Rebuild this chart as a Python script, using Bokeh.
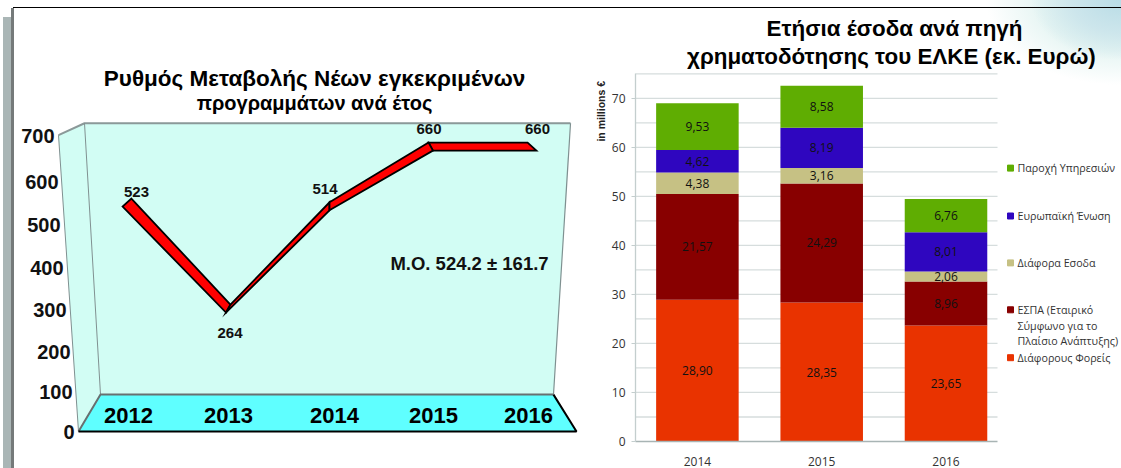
from bokeh.plotting import figure
from bokeh.models import Range1d, FixedTicker, ColumnDataSource
from bokeh.layouts import row
from bokeh.core.properties import value
from bokeh.embed import file_html
from bokeh.resources import INLINE

# ---------- data: left chart ----------
years = [2012, 2013, 2014, 2015, 2016]
new_programmes = [523, 264, 514, 660, 660]
y_ticks_left = [0, 100, 200, 300, 400, 500, 600, 700]
left_title = ["Ρυθμός Μεταβολής Νέων εγκεκριμένων", "προγραμμάτων ανά έτος"]
mean_note = "Μ.Ο. 524.2 ± 161.7"

# ---------- data: right chart ----------
right_years = ["2014", "2015", "2016"]
foreis = [28.90, 28.35, 23.65]
espa = [21.57, 24.29, 8.96]
diafora = [4.38, 3.16, 2.06]
europe = [4.62, 8.19, 8.01]
services = [9.53, 8.58, 6.76]
y_ticks_right = [0, 10, 20, 30, 40, 50, 60, 70]
y_grid_right = [5, 10, 15, 20, 25, 30, 35, 40, 45, 50, 55, 60, 65, 70, 75]
right_y_title = "in millions €"
right_title = ["Ετήσια έσοδα ανά πηγή", "χρηματοδότησης  του ΕΛΚΕ (εκ. Ευρώ)"]
legend_names = ["Παροχή Υπηρεσιών", "Ευρωπαϊκή Ένωση", "Διάφορα Εσοδα",
                "ΕΣΠΑ (Εταιρικό", "Διάφορους Φορείς"]
legend_extra = ["Σύμφωνο για το", "Πλαίσιο Ανάπτυξης)"]

# ---------- layout ----------
PAGE = 0
SPLIT = 606
H = 468
W = 1121
BOTTOM = 26
FRAME_BOTTOM = PAGE + H - BOTTOM
BOLD = "Liberation Sans"
SMALL = "Open Sans"

# left figure: page pixels <-> data
LX0, LDX = 126.5, 101.25      # page x of first year, px per year
LY0, LDY = 417.0, 0.41        # page y of value 0, px per unit
def lx(px): return 2012 + (px - LX0) / LDX
def ly(py): return (LY0 - py) / LDY

# right figure: page pixels <-> data
RX0, RDX = 696.9, 124.3
RY0, RDY = 442.0, 4.914
def rx(px): return (px - RX0) / RDX
def ry(py): return (RY0 - py) / RDY

left_bg = ("linear-gradient(#000,#000) 13px 7px/100% 1px no-repeat,"
           "linear-gradient(#757a7a,#757a7a) 11px 8px/3px 100% no-repeat,"
           "linear-gradient(#aab6b6,#aab6b6) 3px 17px/8px 100% no-repeat")

# ========== LEFT ==========
L = figure(width=SPLIT - PAGE, height=H, output_backend="svg", toolbar_location=None,
           x_range=Range1d(lx(PAGE), lx(SPLIT)), y_range=Range1d(ly(FRAME_BOTTOM), ly(PAGE)),
           min_border_left=0, min_border_right=0, min_border_top=0, min_border_bottom=BOTTOM,
           outline_line_color=None, background_fill_color=None,
           border_fill_color=None, styles={"background": left_bg})
L.axis.visible = False
L.grid.visible = False

def poly(fig, pts, conv, **kw):
    fig.patch([conv[0](a) for a, _ in pts], [conv[1](b) for _, b in pts], **kw)

def seg(fig, pts, conv, color, width):
    fig.line([conv[0](a) for a, _ in pts], [conv[1](b) for _, b in pts],
             line_color=color, line_width=width)

LC = (lx, ly)
WALL = "#d2fdf4"
poly(L, [(58, 135), (84, 123), (100, 395), (78, 432)], LC, fill_color=WALL, line_color=None)
poly(L, [(84, 123), (570, 123), (553, 395), (100, 395)], LC, fill_color=WALL, line_color=None)
poly(L, [(100, 395), (553, 395), (576, 432), (78, 432)], LC, fill_color="#5fffff", line_color=None)
seg(L, [(58, 135), (84, 123), (570, 123)], LC, "#8b9999", 2)
seg(L, [(58, 135), (78, 432)], LC, "#7f9090", 1)
seg(L, [(84, 123), (100, 395)], LC, "#7f9090", 1)
seg(L, [(570, 123), (553, 395)], LC, "#7f9090", 1.2)
seg(L, [(78, 432), (100, 395), (553, 395)], LC, "#687070", 2)
seg(L, [(78, 432), (576, 432), (553, 395)], LC, "#000000", 2)

# ribbon: each segment extruded along the depth of the 3-D chart
DEPTH_X = 2.2 / LDX     # per year away from the centre
DEPTH_Y = 4.0 / LDY
mid = years[2]
def back(i):  return (years[i] - DEPTH_X * (years[i] - mid), new_programmes[i] + DEPTH_Y)
def front(i): return (years[i] + DEPTH_X * (years[i] - mid), new_programmes[i] - DEPTH_Y)
xs, ys = [], []
for i in range(len(years) - 1):
    q = [back(i), back(i + 1), front(i + 1), front(i)]
    xs.append([a for a, _ in q])
    ys.append([b for _, b in q])
order = [0, 1, 3, 2]
L.patches([xs[i] for i in order], [ys[i] for i in order], fill_color="#ff0000",
          line_color="#000000", line_width=1.8, line_join="miter")

# value labels
val_off = [(9.5, -10.6), (1.75, 24), (-4.5, -17), (-1.75, -17.4), (5.5, -17.4)]   # page px offset from the point
for y, v, (ox, oy) in zip(years, new_programmes, val_off):
    L.text([y + ox / LDX], [v - oy / LDY], text=[str(v)], text_font=value(BOLD),
           text_font_style="bold", text_font_size="15px", text_color="#111111",
           text_align="center", text_baseline="middle")

# axis labels sit on the slanted front edge
tick_pos = [(74, 432), (72, 392), (70, 352), (66, 310), (63, 268), (60, 225), (58, 182), (54, 136)]
for t, (a, b) in zip(y_ticks_left, tick_pos):
    L.text([lx(a)], [ly(b)], text=[str(t)], text_font=value(BOLD), text_font_style="bold",
           text_font_size="20px", text_color="#111111", text_align="right", text_baseline="middle")
year_pos = [128, 228, 334, 433, 528]
for y, a in zip(years, year_pos):
    L.text([lx(a)], [ly(416)], text=[str(y)], text_font=value(BOLD), text_font_style="bold",
           text_font_size="22px", text_color="#000000", text_align="center", text_baseline="middle")

L.text([lx(469)], [ly(264)], text=[mean_note], text_font=value(BOLD), text_font_style="bold",
       text_font_size="18.5px", text_color="#111111", text_align="center", text_baseline="middle")
for s, b, fs in zip(left_title, [78, 103], ["22.5px", "20px"]):
    L.text([lx(314)], [ly(b)], text=[s], text_font=value(BOLD), text_font_style="bold",
           text_font_size=fs, text_color="#000000", text_align="center", text_baseline="middle")

# title of the right chart's value axis (stands left of its tick labels)
L.text([lx(600)], [ly(111)], text=[right_y_title], angle=90, angle_units="deg",
       text_font=value(BOLD), text_font_style="bold", text_font_size="10.5px",
       text_color="#222222", text_align="center", text_baseline="middle")

# ========== RIGHT ==========
grad = ("linear-gradient(#000,#000) 0 7px/100% 1px no-repeat,"
        "radial-gradient(ellipse 90px 60px at 100% 0, #b9dce6 0%, #cde6ec 55%, rgba(255,255,255,0) 100%),"
        "radial-gradient(ellipse 135px 85px at 100% 0, #d8f0ec 0%, #e6f5f3 60%, rgba(255,255,255,0) 100%)")
R = figure(width=PAGE + W - SPLIT, height=H, output_backend="svg", toolbar_location=None,
           x_range=Range1d(rx(635), rx(1121)), y_range=Range1d(0, ry(PAGE)),
           min_border_left=635 - SPLIT, min_border_right=0, min_border_top=0,
           min_border_bottom=BOTTOM, outline_line_color=None,
           background_fill_color=None, border_fill_color=None, styles={"background": grad})
R.grid.visible = False

GRID = "#d6dddd"
R.segment(x0=[rx(635)] * len(y_grid_right), y0=y_grid_right,
          x1=[rx(997)] * len(y_grid_right), y1=y_grid_right, line_color=GRID, line_width=1.3)

keys = ["foreis", "espa", "diafora", "europe", "services"]
colors = ["#e93300", "#880000", "#c6c184", "#2f06bf", "#5fad02"]
idx = list(range(len(right_years)))
src = ColumnDataSource(dict(x=idx, foreis=foreis, espa=espa, diafora=diafora, europe=europe, services=services))
R.vbar_stack(keys, x="x", width=0.664, source=src, color=colors, line_color=None)

bottoms = [0.0] * 3
for k, series in zip(keys, [foreis, espa, diafora, europe, services]):
    for i, v in enumerate(series):
        R.text([i], [bottoms[i] + v / 2], text=[f"{v:.2f}".replace(".", ",")],
               text_font=value(SMALL), text_font_size="12px", text_color="#111111",
               text_align="center", text_baseline="middle")
        bottoms[i] += v

R.yaxis.ticker = FixedTicker(ticks=y_ticks_right)
R.yaxis.bounds = (0, 75)
R.yaxis.minor_tick_line_color = None
R.yaxis.axis_line_color = "#c4cece"
R.yaxis.axis_line_width = 1.3
R.yaxis.major_tick_line_color = "#c4cece"
R.yaxis.major_tick_in = 0
R.yaxis.major_tick_out = 4
R.yaxis.major_label_standoff = 6
R.xaxis.ticker = FixedTicker(ticks=idx)
R.xaxis.major_label_overrides = dict(zip(idx, right_years))
R.xaxis.bounds = (rx(635), rx(997))
R.xaxis.axis_line_color = "#a8b4b4"
R.xaxis.axis_line_width = 1.3
R.xaxis.major_tick_line_color = None
R.xaxis.minor_tick_line_color = None
R.xaxis.major_label_standoff = 9
for ax in (R.xaxis, R.yaxis):
    ax.major_label_text_font = SMALL
    ax.major_label_text_font_size = "12px"
    ax.major_label_text_color = "#333333"

for s, a, b in zip(right_title, [894, 894], [28, 56]):
    R.text([rx(a)], [ry(b)], text=[s], text_font=value(BOLD), text_font_style="bold",
           text_font_size="22.4px", text_color="#000000", text_align="center", text_baseline="middle")

leg_y = [168, 216, 263, 310, 358]
leg_col = list(reversed(colors))
R.scatter([rx(1010)] * 5, [ry(b) for b in leg_y], marker="square", size=6, color=leg_col)
R.text([rx(1017)] * 5, [ry(b) for b in leg_y], text=legend_names, text_font=value(SMALL),
       text_font_size="10.7px", text_color="#333333", text_baseline="middle")
R.text([rx(1017)] * 2, [ry(326), ry(341)], text=legend_extra, text_font=value(SMALL),
       text_font_size="10.7px", text_color="#333333", text_baseline="middle")

page = row(L, R, spacing=0)
open("out.html", "w").write(file_html(page, INLINE))
